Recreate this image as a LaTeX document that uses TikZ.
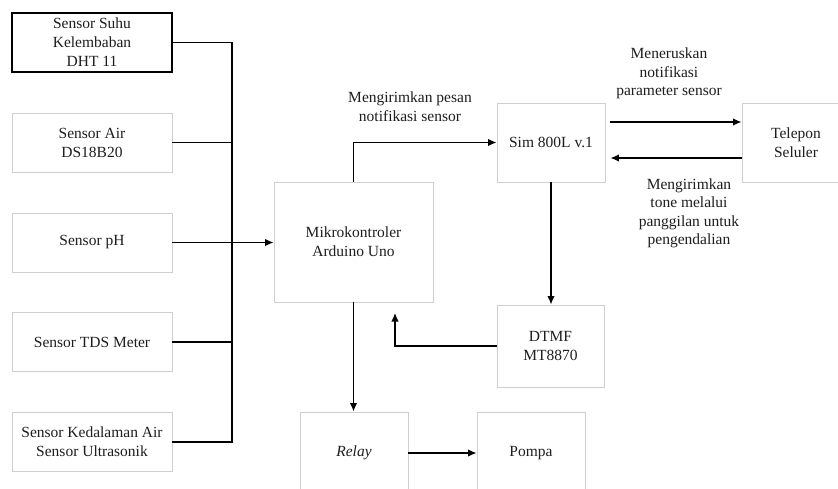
\documentclass[tikz,border=0pt]{standalone}
\usepackage{fontspec}
\setmainfont{Liberation Serif}
\usetikzlibrary{arrows.meta}
\definecolor{boxgray}{HTML}{CFCFCF}
\definecolor{txt}{HTML}{1E1E1E}
\tikzset{
  blk/.style={draw=boxgray, line width=0.9pt, fill=white, align=center, text=txt,
    font=\fontsize{15.5}{19}\selectfont, inner sep=0pt},
  blkdark/.style={blk, draw=black, line width=1.3pt},
  arr/.style={line width=1.4pt, -{Latex[length=8.5pt,width=7.5pt]}},
  ln/.style={line width=1.4pt},
  lbl/.style={align=center, text=txt, font=\fontsize{15.5}{18.5}\selectfont, inner sep=0pt}
}
\begin{document}
\begin{tikzpicture}[x=1pt,y=-1pt]
\useasboundingbox (0,0) rectangle (838,489);
\fill[white] (0,0) rectangle (838,489);
\clip (0,0) rectangle (838,489);
% left sensors
\node[blkdark, minimum width=160pt, minimum height=59pt] (dht) at (92,42.5) {Sensor Suhu\\Kelembaban\\DHT 11};
\node[blk, minimum width=160pt, minimum height=59pt] (air) at (92,142.5) {Sensor Air\\DS18B20};
\node[blk, minimum width=160pt, minimum height=59pt] (ph) at (92,242.5) {Sensor pH};
\node[blk, minimum width=160pt, minimum height=59pt] (tds) at (92,342) {Sensor TDS Meter};
\node[blk, minimum width=160pt, minimum height=59pt] (ked) at (92,442) {Sensor Kedalaman Air\\Sensor Ultrasonik};
% main blocks
\node[blk, minimum width=159pt, minimum height=120pt] (mikro) at (353.5,242) {Mikrokontroler\\Arduino Uno};
\node[blk, minimum width=108pt, minimum height=79pt] (sim) at (551,142.5) {Sim 800L v.1};
\node[blk, minimum width=108pt, minimum height=79pt] (tel) at (796,142.5) {Telepon\\Seluler};
\node[blk, minimum width=107pt, minimum height=82pt] (dtmf) at (550.5,346) {DTMF\\MT8870};
\node[blk, minimum width=108pt, minimum height=82pt] (relay) at (354,453) {\textit{Relay}};
\node[blk, minimum width=108pt, minimum height=82pt] (pompa) at (531,453) {Pompa};
% labels
\node[lbl] (l1) at (410,106.5) {Mengirimkan pesan\\notifikasi sensor};
\node[lbl] (l2) at (669,73.5) {Meneruskan\\notifikasi\\parameter sensor};
\node[lbl] (l3) at (689,213.5) {Mengirimkan\\tone melalui\\panggilan untuk\\pengendalian};
% bus
\coordinate (busx) at (232,0);
\coordinate (fb) at (395,313);
\draw[ln] (dht.east) -- (dht.east -| busx) -- (ked.east -| busx) -- (ked.east);
\draw[ln] (air.east) -- (air.east -| busx);
\draw[ln] (tds.east) -- (tds.east -| busx);
\draw[arr] (ph.east) -- (ph.east -| mikro.west);
% connectors
\draw[arr] (mikro.north) |- (sim.west);
\draw[arr] ([shift={(5,-20.5)}]sim.east) -- ([shift={(0,-20.5)}]tel.west);
\draw[arr] ([shift={(0,15.5)}]tel.west) -- ([shift={(5,15.5)}]sim.east);
\draw[arr] (sim.south) -- (sim.south |- dtmf.north);
\draw[arr] (dtmf.west) -| (fb);
\draw[arr] (mikro.south) -- (mikro.south |- relay.north);
\draw[arr] (relay.east) -- (pompa.west);
\end{tikzpicture}
\end{document}
